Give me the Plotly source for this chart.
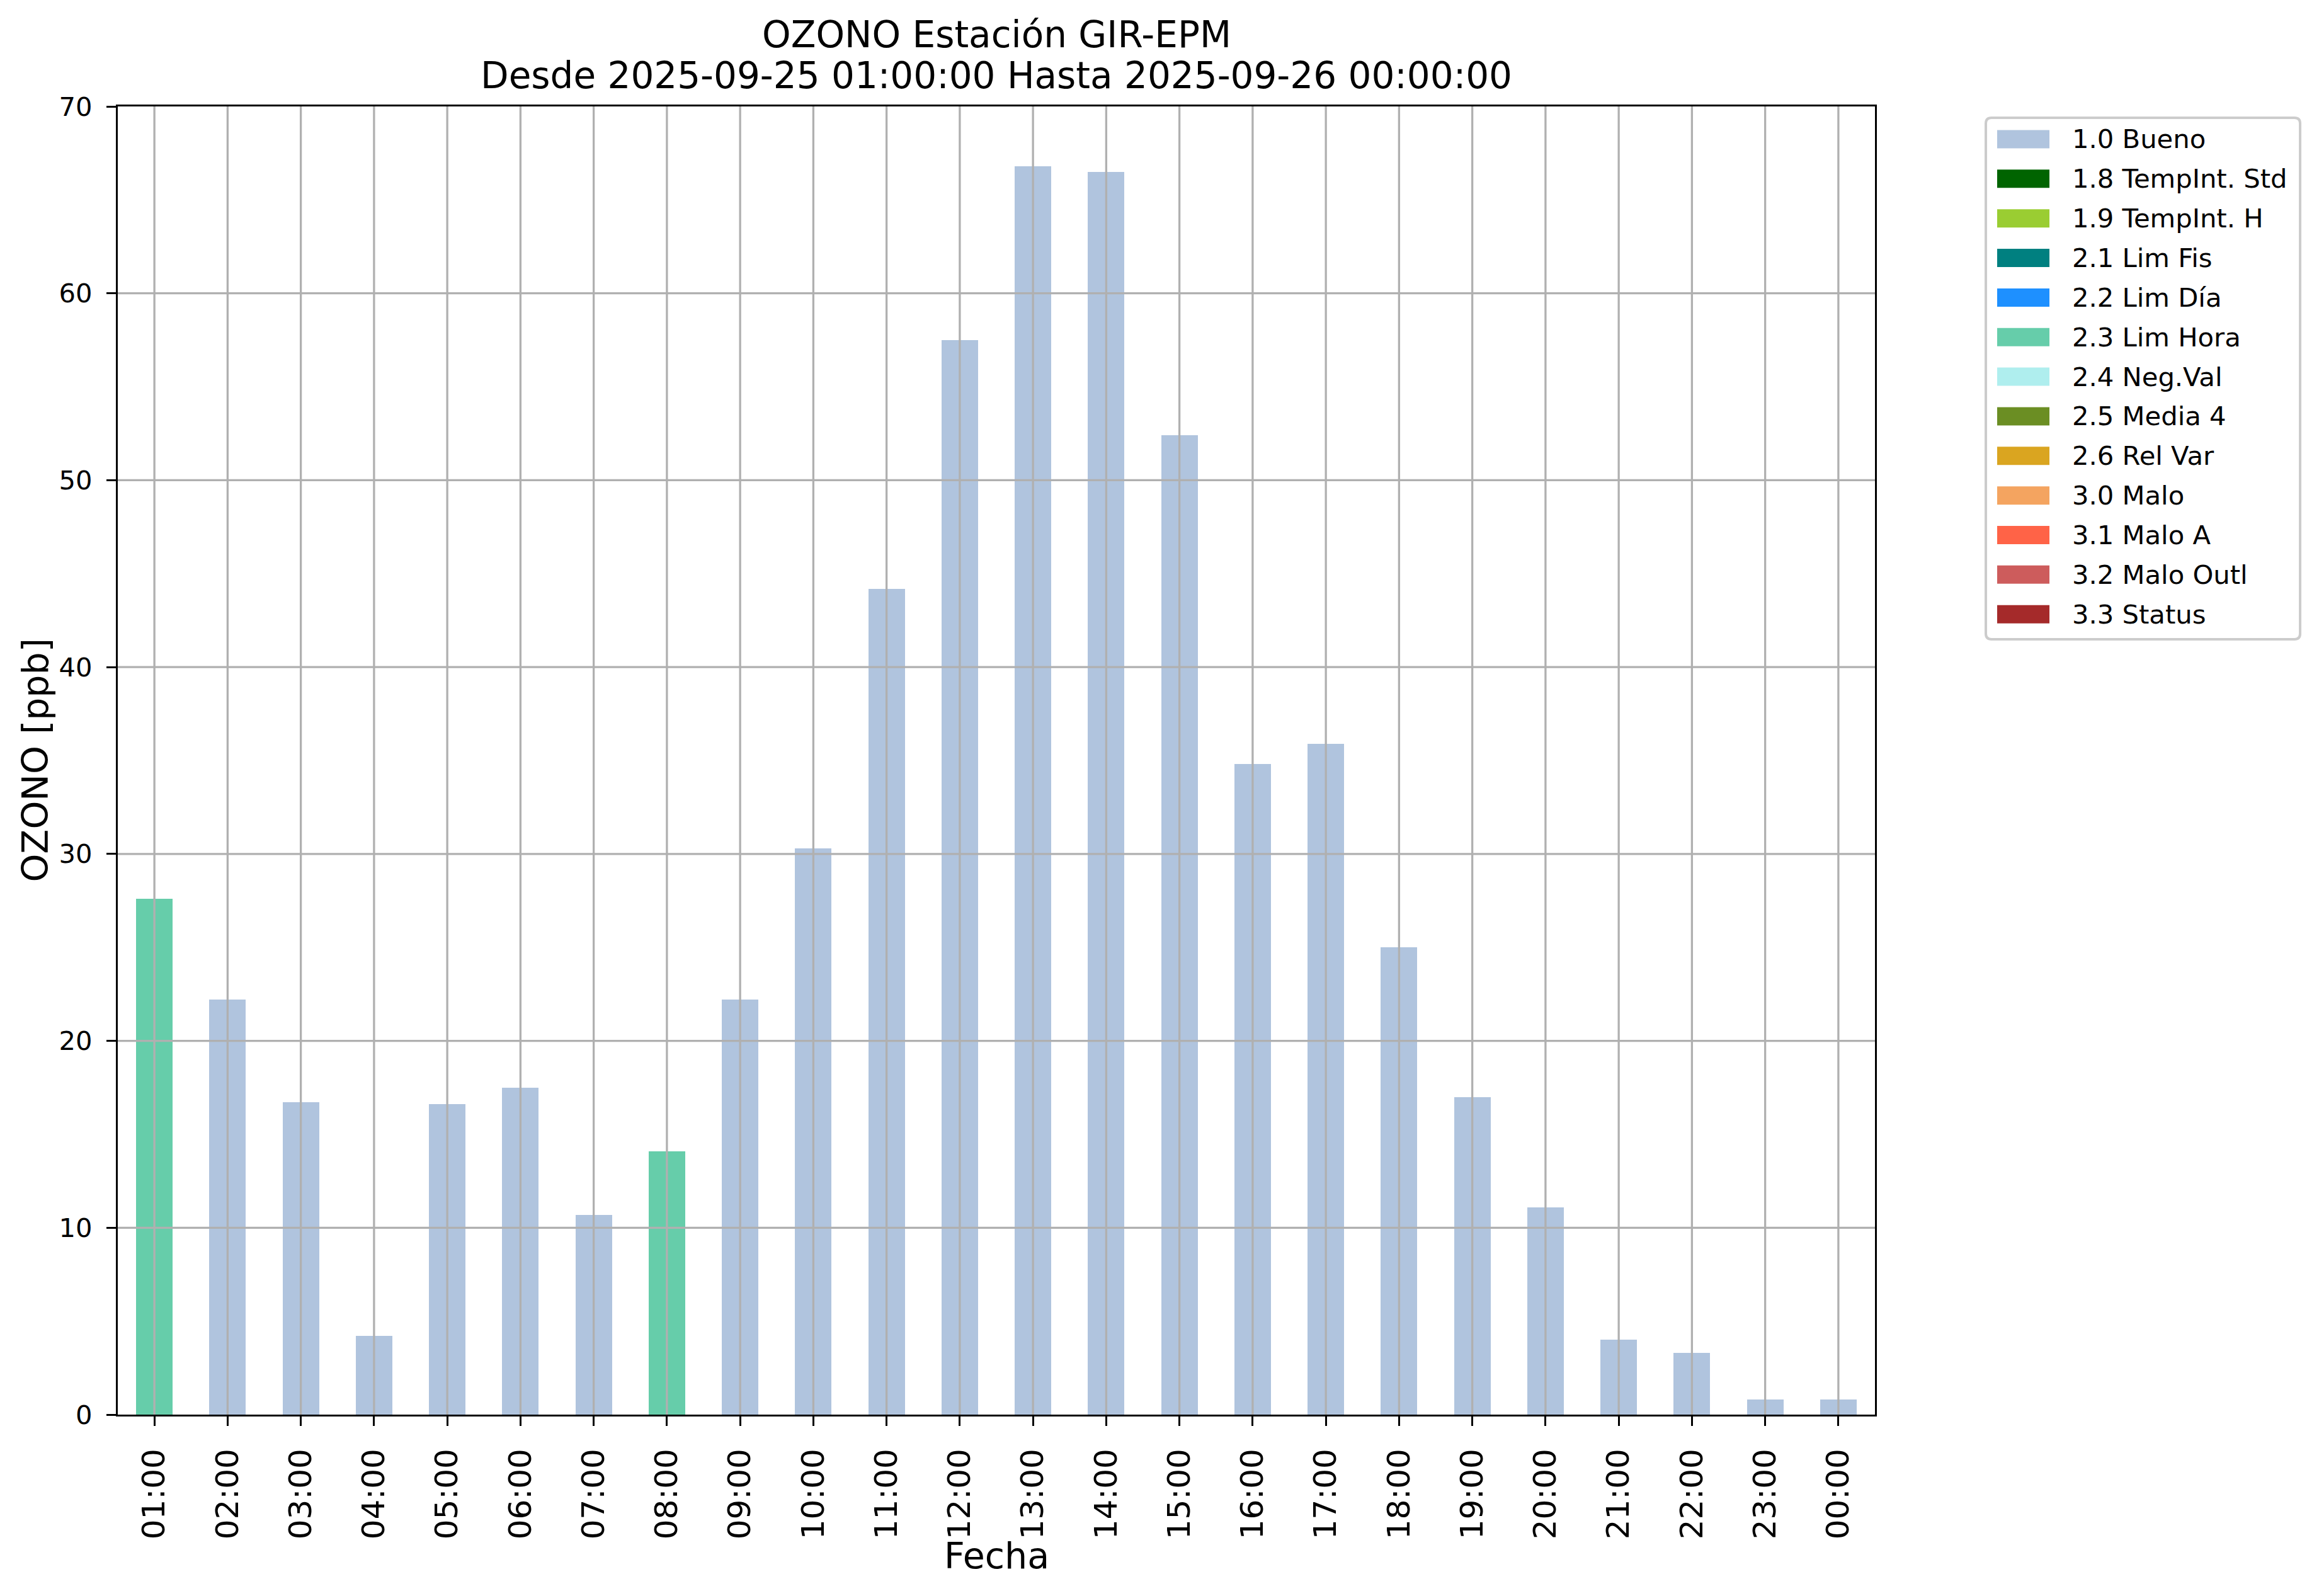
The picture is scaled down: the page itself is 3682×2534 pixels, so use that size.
import plotly.graph_objects as go

# ---------------- data ----------------
hours = ["01:00", "02:00", "03:00", "04:00", "05:00", "06:00", "07:00", "08:00",
         "09:00", "10:00", "11:00", "12:00", "13:00", "14:00", "15:00", "16:00",
         "17:00", "18:00", "19:00", "20:00", "21:00", "22:00", "23:00", "00:00"]
values = [27.6, 22.2, 16.7, 4.2, 16.6, 17.5, 10.7, 14.1,
          22.2, 30.3, 44.2, 57.5, 66.8, 66.5, 52.4, 34.8,
          35.9, 25.0, 17.0, 11.1, 4.0, 3.3, 0.8, 0.8]
flags = ["2.3 Lim Hora", "1.0 Bueno", "1.0 Bueno", "1.0 Bueno", "1.0 Bueno", "1.0 Bueno",
         "1.0 Bueno", "2.3 Lim Hora", "1.0 Bueno", "1.0 Bueno", "1.0 Bueno", "1.0 Bueno",
         "1.0 Bueno", "1.0 Bueno", "1.0 Bueno", "1.0 Bueno", "1.0 Bueno", "1.0 Bueno",
         "1.0 Bueno", "1.0 Bueno", "1.0 Bueno", "1.0 Bueno", "1.0 Bueno", "1.0 Bueno"]
legend_labels = ["1.0 Bueno", "1.8 TempInt. Std", "1.9 TempInt. H", "2.1 Lim Fis",
                 "2.2 Lim Día", "2.3 Lim Hora", "2.4 Neg.Val", "2.5 Media 4",
                 "2.6 Rel Var", "3.0 Malo", "3.1 Malo A", "3.2 Malo Outl", "3.3 Status"]
legend_colors = ["#B0C4DE", "#006400", "#9ACD32", "#008080", "#1E90FF", "#66CDAA",
                 "#AFEEEE", "#6B8E23", "#DAA520", "#F4A460", "#FF6347", "#CD5C5C", "#A52A2A"]
y_ticks = [0, 10, 20, 30, 40, 50, 60, 70]
title_line1 = "OZONO Estación GIR-EPM"
title_line2 = "Desde 2025-09-25 01:00:00 Hasta 2025-09-26 00:00:00"
x_title = "Fecha"
y_title = "OZONO [ppb]"

# ---------------- layout geometry (pixels, page coordinates) ----------------
OFF = 8  # default page body margin
W, H = 3682 - OFF, 2534 - OFF
L, R, T, B = 187 - OFF, 2977 - OFF, 169 - OFF, 2246 - OFF
FONT = "DejaVu Sans"
GRID = "#b0b0b0"


def px_x(x):
    return (x - OFF - L) / (R - L)


def px_y(y):
    return (B - (y - OFF)) / (B - T)


fig = go.Figure()

for lab, col in zip(legend_labels, legend_colors):
    ys = [v if f == lab else None for v, f in zip(values, flags)]
    if any(y is not None for y in ys):
        fig.add_trace(go.Bar(x=hours, y=ys, name=lab, width=0.5,
                             marker=dict(color=col, line=dict(width=0)),
                             showlegend=False))

shapes = []
# grid lines drawn above bars (as in the reference)
for h in hours:
    shapes.append(dict(type="line", xref="x", yref="paper", x0=h, x1=h, y0=0, y1=1,
                       line=dict(color=GRID, width=3.3), layer="above"))
for yv in y_ticks[1:-1]:
    shapes.append(dict(type="line", xref="paper", yref="y", x0=0, x1=1, y0=yv, y1=yv,
                       line=dict(color=GRID, width=3.3), layer="above"))

# legend frame (rounded)
bx0, bx1, by0, by1, r = 3153, 3652, 187, 1015, 9
X0, X1 = px_x(bx0), px_x(bx1)
Y0, Y1 = px_y(by0), px_y(by1)
rx = r / (R - L)
ry = r / (B - T)
path = (f"M {X0+rx},{Y0} L {X1-rx},{Y0} Q {X1},{Y0} {X1},{Y0-ry} "
        f"L {X1},{Y1+ry} Q {X1},{Y1} {X1-rx},{Y1} L {X0+rx},{Y1} "
        f"Q {X0},{Y1} {X0},{Y1+ry} L {X0},{Y0-ry} Q {X0},{Y0} {X0+rx},{Y0} Z")
shapes.append(dict(type="path", xref="paper", yref="paper", path=path,
                   line=dict(color="#cccccc", width=4), fillcolor="white", layer="above"))

annotations = []
for i, (lab, col) in enumerate(zip(legend_labels, legend_colors)):
    cy = 221 + 62.85 * i
    shapes.append(dict(type="rect", xref="paper", yref="paper",
                       x0=px_x(3171), x1=px_x(3254), y0=px_y(cy - 14.5), y1=px_y(cy + 14.5),
                       fillcolor=col, line=dict(width=0), layer="above"))
    annotations.append(dict(text=lab, xref="paper", yref="paper", x=px_x(3288), y=px_y(cy),
                            xanchor="left", yanchor="middle", showarrow=False,
                            font=dict(family=FONT, size=41.7, color="black")))

# titles
annotations.append(dict(text=title_line1, xref="paper", yref="paper", x=0.5, y=px_y(55),
                        xanchor="center", yanchor="middle", showarrow=False,
                        font=dict(family=FONT, size=58, color="black")))
annotations.append(dict(text=title_line2, xref="paper", yref="paper", x=0.5, y=px_y(120),
                        xanchor="center", yanchor="middle", showarrow=False,
                        font=dict(family=FONT, size=58, color="black")))
annotations.append(dict(text=x_title, xref="paper", yref="paper", x=0.5, y=px_y(2470),
                        xanchor="center", yanchor="middle", showarrow=False,
                        font=dict(family=FONT, size=57, color="black")))
annotations.append(dict(text=y_title, xref="paper", yref="paper", x=px_x(55), y=0.5,
                        xanchor="center", yanchor="middle", showarrow=False, textangle=-90,
                        font=dict(family=FONT, size=57, color="black")))

fig.update_layout(
    width=W, height=H,
    margin=dict(l=L, r=W - R, t=T, b=H - B, pad=0),
    paper_bgcolor="white", plot_bgcolor="white",
    barmode="stack", bargap=0.5,
    showlegend=False,
    shapes=shapes, annotations=annotations,
    font=dict(family=FONT, color="black"),
)
fig.update_xaxes(type="category", range=[-0.5, 23.5], showgrid=False,
                 showline=True, linecolor="black", linewidth=3.3, mirror=True,
                 ticks="outside", ticklen=15, tickwidth=3.3, tickcolor="black",
                 tickangle=-90, tickfont=dict(family=FONT, size=50, color="black"),
                 ticklabelstandoff=16, zeroline=False)
fig.update_yaxes(range=[0, 70], tickvals=y_ticks, showgrid=False,
                 showline=True, linecolor="black", linewidth=3.3, mirror=True,
                 ticks="outside", ticklen=15, tickwidth=3.3, tickcolor="black",
                 tickfont=dict(family=FONT, size=41.7, color="black"),
                 ticklabelstandoff=14, zeroline=False)

fig.write_html("out.html")
